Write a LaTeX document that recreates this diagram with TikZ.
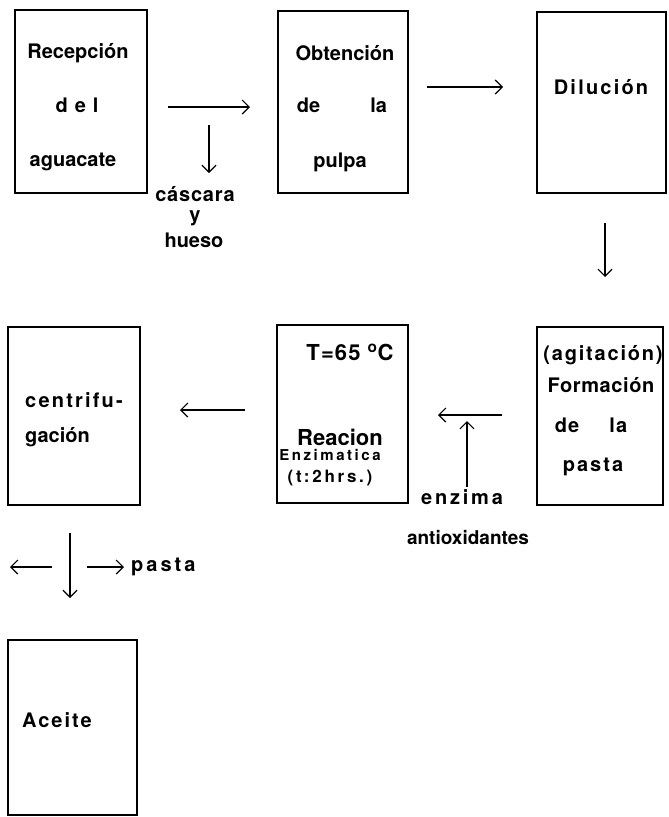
\documentclass[tikz,border=0pt]{standalone}
\usepackage{fontspec}
\setmainfont{TeX Gyre Heros}
\usetikzlibrary{arrows.meta}

\tikzset{
  caja/.style={draw, line width=1.3pt, inner sep=0pt},
  texto/.style={inner sep=0pt, font=\fontsize{20}{24}\selectfont\bfseries\addfontfeatures{LetterSpace=#1}},
  texto/.default=0,
  flecha/.style={-{Straight Barb[length=7pt, width=14pt, line width=1.2pt]}, line width=1.1pt}
}

\begin{document}
\begin{tikzpicture}[x=1pt, y=-1pt]
  \useasboundingbox (0,0) rectangle (669,817);

  % Boxes, first row
  \node[caja, minimum width=132, minimum height=183] (recepcion) at (81,101.5) {};
  \node[caja, minimum width=130, minimum height=182] (obtencion) at (343,102) {};
  \node[caja, minimum width=129, minimum height=181] (dilucion) at (601.5,102.5) {};

  % Boxes, second row
  \node[caja, minimum width=132, minimum height=178] (centrifugacion) at (74,416) {};
  \node[caja, minimum width=131, minimum height=178] (reaccion) at (342.5,414) {};
  \node[caja, minimum width=126, minimum height=178] (formacion) at (600,416) {};

  % Box, third row
  \node[caja, minimum width=129, minimum height=175] (aceite) at (72.5,727.5) {};

  % Texts in the boxes
  \node[texto] (rec1) at (78,53) {Recepción};
  \node[texto=35] (rec2) at (77,105) {del};
  \node[texto] (rec3) at (73,162) {aguacate};

  \node[texto] (obt1) at (345,53) {Obtención};
  \node[texto] (obt2) at (342,105) {de\hspace{50pt}la};
  \node[texto] (obt3) at (340,162) {pulpa};

  \node[texto=11] (dil1) at (601,87) {Dilución};

  \node[texto=9] (for1) at (603,355) {(agitación)};
  \node[texto=3] (for2) at (601,385) {Formación};
  \node[texto=6] (for3) at (591,425) {de\hspace{30pt}la};
  \node[texto=10] (for4) at (593,467) {pasta};

  \node[inner sep=0pt, font=\fontsize{22}{26}\selectfont\bfseries\addfontfeatures{LetterSpace=5}]
    (rea1) at (350,352) {T=65 \textsuperscript{o}C};
  \node[inner sep=0pt, font=\fontsize{22}{26}\selectfont\bfseries] (rea2) at (340,437) {Reacion};
  \node[inner sep=0pt, font=\fontsize{15}{18}\selectfont\bfseries\addfontfeatures{LetterSpace=17}]
    (rea3) at (330,455) {Enzimatica};
  \node[inner sep=0pt, font=\fontsize{17}{20}\selectfont\bfseries\addfontfeatures{LetterSpace=16}]
    (rea4) at (330,478) {(t:2hrs.)};

  \node[texto=11, anchor=west] (cen1) at (25,400) {centrifu-};
  \node[texto, anchor=west] (cen2) at (25,437) {gación};

  \node[texto=10, anchor=west] (ace1) at (22,720) {Aceite};

  % Texts outside the boxes
  \node[texto=4] (cascara) at (195,194) {cáscara};
  \node[texto] (y) at (195,218) {y};
  \node[texto] (hueso) at (194,240) {hueso};
  \node[texto=14] (enzima) at (462,497) {enzima};
  \node[inner sep=0pt, font=\fontsize{19}{22}\selectfont\bfseries] (antiox) at (468,538) {antioxidantes};
  \node[texto=15, anchor=west] (pasta) at (131,567) {pasta};

  % Arrow ends
  \coordinate (f1a) at (168,107);  \coordinate (f1b) at (250,107);
  \coordinate (f2a) at (209,125);  \coordinate (f2b) at (209,173);
  \coordinate (f3a) at (427,87);   \coordinate (f3b) at (503,87);
  \coordinate (f4a) at (605,223);  \coordinate (f4b) at (605,277);
  \coordinate (f5a) at (502,415);  \coordinate (f5b) at (438,415);
  \coordinate (f6a) at (467,487);  \coordinate (f6b) at (467,421);
  \coordinate (f7a) at (245,410);  \coordinate (f7b) at (180,410);
  \coordinate (f8a) at (52,567);   \coordinate (f8b) at (10,567);
  \coordinate (f9a) at (70,533);   \coordinate (f9b) at (70,598);
  \coordinate (f10a) at (87,567);  \coordinate (f10b) at (124,567);

  \foreach \a/\b in {f1a/f1b, f2a/f2b, f3a/f3b, f4a/f4b, f5a/f5b,
                     f6a/f6b, f7a/f7b, f8a/f8b, f9a/f9b, f10a/f10b} {
    \draw[flecha] (\a) -- (\b);
  }

\end{tikzpicture}
\end{document}
